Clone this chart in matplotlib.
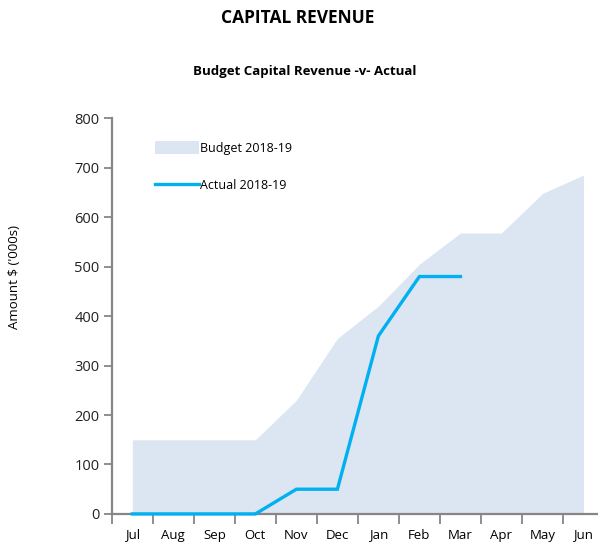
import numpy as np
import matplotlib
matplotlib.use("Agg")
import matplotlib.pyplot as plt
from matplotlib.patches import Patch
from matplotlib.lines import Line2D


# Data ------------------------------------------------------------------

Months = ["Jul", "Aug", "Sep", "Oct", "Nov", "Dec", "Jan", "Feb", "Mar", "Apr", "May", "Jun"]
Budget = [150, 150, 150, 150, 230, 355, 420, 505, 568, 568, 648, 685]
Actual = [0, 0, 0, 0, 50, 50, 360, 480, 480]

Budget_Color = "#dce6f2"
Actual_Color = "#00b0f0"
Axis_Color = "#868686"


# Plotting --------------------------------------------------------------

plt.rcParams["font.family"] = ["Open Sans", "DejaVu Sans"]

fig = plt.figure(figsize=(5.98, 5.45), dpi=100)
ax = fig.add_axes([0.187, 0.057, 0.823, 0.726])

x = np.arange(len(Months))
ax.fill_between(x, Budget, 0, color=Budget_Color, linewidth=0)
ax.plot(np.arange(len(Actual)), Actual, color=Actual_Color, linewidth=2.4,
        solid_joinstyle="miter", clip_on=False, zorder=5)

ax.set_xlim(-0.5, 11.5)
ax.set_ylim(0, 800)
ax.set_yticks(range(0, 801, 100))
ax.set_xticks(x)
ax.set_xticklabels(Months)
ax.set_xticks(np.arange(-0.5, 11.6, 1), minor=True)
ax.tick_params(axis="x", which="major", length=0, pad=10.5, labelsize=9.5)
ax.tick_params(axis="x", which="minor", length=7, width=1.3, color=Axis_Color, direction="out")
ax.tick_params(axis="y", length=6, width=1.3, color=Axis_Color, labelsize=10.5, labelcolor="#222222", pad=3)

for s in ["top", "right"]:
    ax.spines[s].set_visible(False)
for s in ["left", "bottom"]:
    ax.spines[s].set_color(Axis_Color)
    ax.spines[s].set_linewidth(1.6)

ax.set_ylabel("Amount $ ('000s)", fontsize=9.5)
ax.yaxis.set_label_coords(-0.185, 0.6)

Handles = [Patch(facecolor=Budget_Color, edgecolor="none"),
           Line2D([0], [0], color=Actual_Color, linewidth=2.4)]
ax.legend(Handles, ["Budget 2018-19", "Actual 2018-19"], loc="upper left",
          bbox_to_anchor=(0.065, 0.97), frameon=False, fontsize=9,
          handlelength=3.5, handleheight=1.2, handletextpad=0.1, labelspacing=1.9)

fig.text(0.497, 0.967, "CAPITAL REVENUE", ha="center", va="center", fontsize=12.5, fontweight="bold")
fig.text(0.51, 0.868, "Budget Capital Revenue -v- Actual", ha="center", va="center", fontsize=9.5, fontweight="bold")

plt.savefig("out.png", dpi=100)
